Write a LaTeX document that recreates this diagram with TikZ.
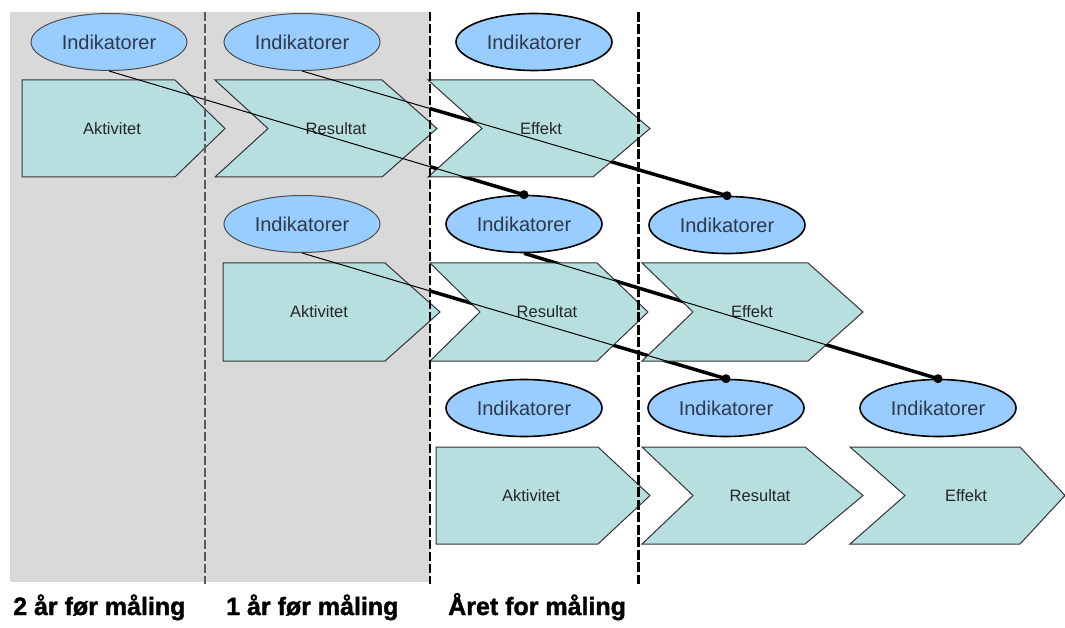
\documentclass[tikz,border=0pt]{standalone}
\usepackage{fontspec}
\setmainfont{Liberation Sans}
\newfontfamily\heavyfont[FakeBold=1.5]{Liberation Sans Bold}
\usetikzlibrary{shapes.geometric}
\definecolor{chevfill}{HTML}{B8DFE0}
\definecolor{ellfill}{HTML}{99CCFF}
\definecolor{bggrey}{HTML}{D9D9D9}
\definecolor{txtdark}{HTML}{2E3A48}
\pgfdeclarelayer{links}
\pgfdeclarelayer{greyl}
\pgfdeclarelayer{top}
\pgfsetlayers{links,greyl,main,top}
\tikzset{
  ind/.style={ellipse, fill=ellfill, minimum width=156pt, minimum height=57pt,
    inner sep=0pt, font=\fontsize{20}{21}\selectfont, text=txtdark},
  indg/.style={ind, draw=black!70, line width=1pt},
  indw/.style={ind, draw=black, line width=1.6pt},
  shp/.style={fill=chevfill, draw=black!80, line width=1pt, line join=miter},
  lbl/.style={font=\fontsize{16.5}{17}\selectfont, text=black!85, inner sep=0pt},
  thicklink/.style={draw=black, line width=3.5pt},
  thinlink/.style={draw=black, line width=1pt},
  dotend/.style={fill=black},
  sepA/.style={draw=black!65, line width=1.5pt, dash pattern=on 9pt off 3pt},
  sepB/.style={draw=black, line width=2.3pt, dash pattern=on 9pt off 3pt},
  sepC/.style={draw=black, line width=3pt, dash pattern=on 10pt off 2.5pt},
  yearlbl/.style={font=\heavyfont\fontsize{25}{26}\selectfont, anchor=base west, inner sep=0pt}
}
\begin{document}
\begin{tikzpicture}[x=1pt, y=-1pt]
\useasboundingbox (0,0) rectangle (1065,628);

% grey area
\begin{pgfonlayer}{greyl}
\fill[bggrey] (10,12) rectangle (430,582);
\end{pgfonlayer}

% row 1 shapes
\path[shp] (22,80) -- (175,80) -- (225,128.5) -- (175,177) -- (22,177) -- cycle;
\path[shp] (215,80) -- (382,80) -- (437,128.5) -- (382,177) -- (215,177) -- (268,128.5) -- cycle;
\path[shp] (428,80) -- (593,80) -- (650,128.5) -- (593,177) -- (428,177) -- (482,128.5) -- cycle;
% row 2 shapes
\path[shp] (223,263) -- (385,263) -- (440,312) -- (385,361) -- (223,361) -- cycle;
\path[shp] (430,263) -- (597,263) -- (648,312) -- (597,361) -- (430,361) -- (480,312) -- cycle;
\path[shp] (642,263) -- (808,263) -- (863,312) -- (808,361) -- (642,361) -- (693,312) -- cycle;
% row 3 shapes
\path[shp] (436,447) -- (598,447) -- (650,495.5) -- (598,544) -- (436,544) -- cycle;
\path[shp] (642,447) -- (805,447) -- (863,495.5) -- (805,544) -- (642,544) -- (693,495.5) -- cycle;
\path[shp] (850,447) -- (1020,447) -- (1065,495.5) -- (1020,544) -- (850,544) -- (905,495.5) -- cycle;

% shape labels
\node[lbl] (a1) at (112,128.5) {Aktivitet};
\node[lbl] (r1) at (336,128.5) {Resultat};
\node[lbl] (f1) at (541,128.5) {Effekt};
\node[lbl] (a2) at (319,312) {Aktivitet};
\node[lbl] (r2) at (547,312) {Resultat};
\node[lbl] (f2) at (752,312) {Effekt};
\node[lbl] (a3) at (531,495.5) {Aktivitet};
\node[lbl] (r3) at (760,495.5) {Resultat};
\node[lbl] (f3) at (966,495.5) {Effekt};

% indicator ellipses
\node[indg] (e11) at (109,42) {Indikatorer};
\node[indg] (e12) at (302,42) {Indikatorer};
\node[indw] (e13) at (534,42) {Indikatorer};
\node[indg] (e22) at (302,224) {Indikatorer};
\node[indw] (e23) at (524,224) {Indikatorer};
\node[indw] (e24) at (727,225) {Indikatorer};
\node[indw] (e33) at (524,408) {Indikatorer};
\node[indw] (e34) at (726,408) {Indikatorer};
\node[indw] (e35) at (938,408) {Indikatorer};

% connectors: thick below, thin on top
\begin{pgfonlayer}{links}
\draw[thicklink] (e11.south) -- (e23.north);
\draw[thicklink] (e12.south) -- (e24.north);
\draw[thicklink] (e22.south) -- (e34.north);
\draw[thicklink] (e23.south) -- (e35.north);
\end{pgfonlayer}
\begin{pgfonlayer}{top}
\draw[thinlink] (e11.south) -- (e23.north);
\draw[thinlink] (e12.south) -- (e24.north);
\draw[thinlink] (e22.south) -- (e34.north);
\draw[thinlink] (e23.south) -- (e35.north);
\fill[dotend] (e23.north) circle (4.5pt);
\fill[dotend] (e24.north) circle (4.5pt);
\fill[dotend] (e34.north) circle (4.5pt);
\fill[dotend] (e35.north) circle (4.5pt);
% separators
\draw[sepA] (205,12) -- (205,584);
\draw[sepB] (430,12) -- (430,584);
\draw[sepC] (638,12) -- (638,584);
\end{pgfonlayer}

% year labels
\node[yearlbl] (y2) at (13,615) {2 år før måling};
\node[yearlbl] (y1) at (226,615) {1 år før måling};
\node[yearlbl] (y0) at (448,615) {Året for måling};
\end{tikzpicture}
\end{document}
